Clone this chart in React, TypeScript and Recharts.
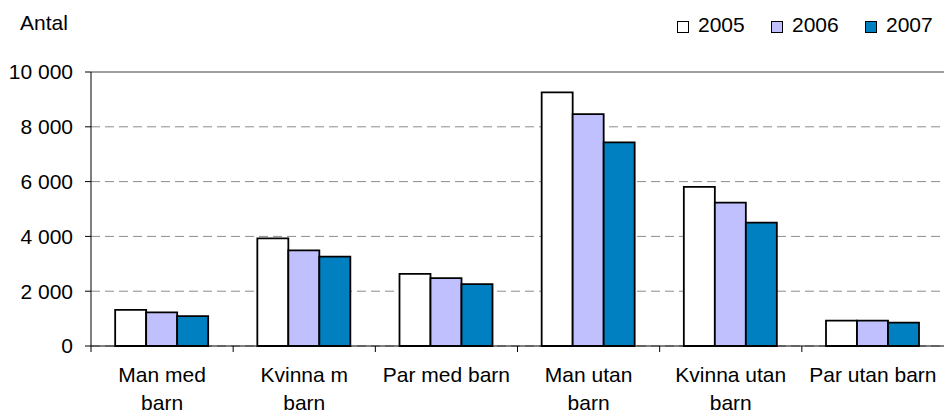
import { Bar, BarChart, CartesianGrid, Legend, ReferenceLine, XAxis, YAxis } from 'recharts';

const categories = ['Man med barn', 'Kvinna m barn', 'Par med barn', 'Man utan barn', 'Kvinna utan barn', 'Par utan barn'];
const tickLabels = [['Man med', 'barn'], ['Kvinna m', 'barn'], ['Par med barn'], ['Man utan', 'barn'], ['Kvinna utan', 'barn'], ['Par utan barn']];
const v2005 = [1320, 3930, 2630, 9260, 5810, 925];
const v2006 = [1230, 3490, 2480, 8460, 5230, 925];
const v2007 = [1090, 3260, 2260, 7430, 4500, 850];
const yTicks = [0, 2000, 4000, 6000, 8000, 10000];

const series = [
  { key: 'y2005', name: '2005', color: '#ffffff' },
  { key: 'y2006', name: '2006', color: '#c0c0ff' },
  { key: 'y2007', name: '2007', color: '#0080c0' },
];

const data = categories.map((name, i) => ({ name, y2005: v2005[i], y2006: v2006[i], y2007: v2007[i] }));

const W = 944;
const H = 414;
const LEFT = 91;
const LEG_H = 44;
const BAND = (W - LEFT) / categories.length;
const FS = 21;
const font = '"Liberation Sans", Arial, sans-serif';

const fmt = (v: number) => String(v).replace(/\B(?=(\d{3})+(?!\d))/g, ' ');

function XTick(props: any) {
  const { x, y, payload } = props;
  const lines = tickLabels[payload.index] ?? [payload.value];
  const left = x - BAND / 2;
  return (
    <g>
      <line x1={left} y1={y - 8} x2={left} y2={y - 2} stroke="#000" />
      <text x={x} y={y} textAnchor="middle" fontSize={FS} fill="#000" fontFamily={font}>
        {lines.map((l: string, i: number) => (
          <tspan key={i} x={x} dy={i === 0 ? 28 : 28}>{l}</tspan>
        ))}
      </text>
    </g>
  );
}

function LegendBox() {
  return (
    <div style={{ position: 'relative', width: W, height: LEG_H, fontFamily: font, fontSize: FS, lineHeight: 'normal', color: '#000' }}>
      <span style={{ position: 'absolute', left: 20, top: 11 }}>Antal</span>
      {series.map((s, i) => (
        <span key={s.key}>
          <span style={{ position: 'absolute', left: 677 + i * 94, top: 21, width: 12, height: 12, boxSizing: 'border-box', background: s.color, border: '1.5px solid #000' }} />
          <span style={{ position: 'absolute', left: 698 + i * 94, top: 13 }}>{s.name}</span>
        </span>
      ))}
    </div>
  );
}

export default function App() {
  return (
    <div style={{ position: 'absolute', left: 0, top: 0, background: '#fff' }}>
      <BarChart width={W} height={H} data={data} margin={{ top: 72 - LEG_H, right: 0, bottom: 0, left: 0 }} barCategoryGap="17%" barGap={0}>
        <Legend verticalAlign="top" align="left" height={LEG_H} wrapperStyle={{ top: 0, left: 0, width: W }} content={() => <LegendBox />} />
        <CartesianGrid vertical={false} stroke="#8c8c8c" strokeDasharray="9 5" />
        <ReferenceLine y={10000} stroke="#a0a0a0" strokeWidth={2} />
        <XAxis dataKey="name" height={68} interval={0} axisLine={{ stroke: '#000' }} tickLine={false} tick={<XTick />} />
        <YAxis
          width={LEFT}
          domain={[0, 10000]}
          ticks={yTicks}
          tickFormatter={fmt}
          axisLine={{ stroke: '#000' }}
          tickLine={{ stroke: '#000' }}
          tickSize={6}
          tickMargin={12}
          tick={{ fill: '#000', fontSize: FS, fontFamily: font }}
        />
        {series.map((s) => (
          <Bar key={s.key} dataKey={s.key} name={s.name} fill={s.color} stroke="#000" strokeWidth={1.8} isAnimationActive={false} />
        ))}
      </BarChart>
    </div>
  );
}
